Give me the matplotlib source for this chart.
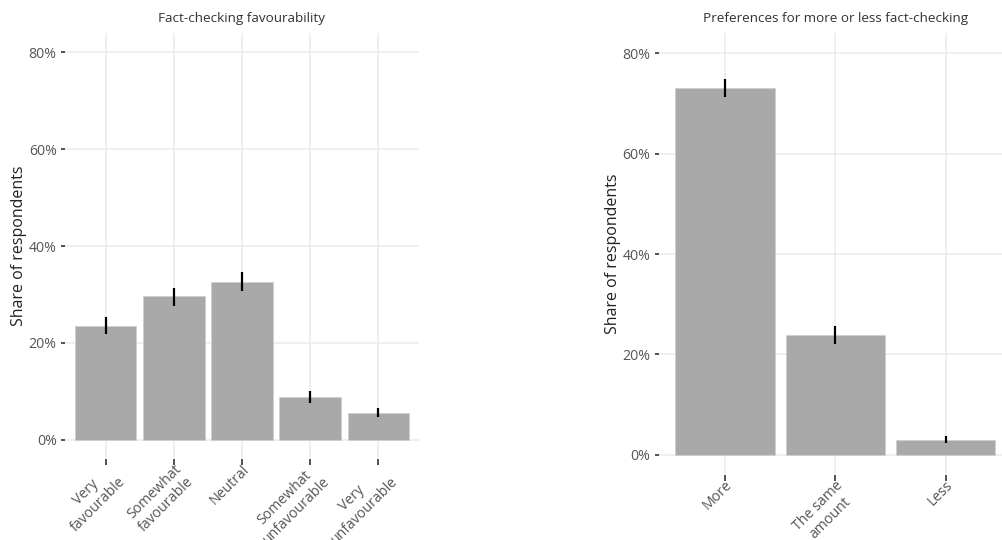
import matplotlib.pyplot as plt
from matplotlib.ticker import PercentFormatter

plt.rcParams["font.family"] = ["Open Sans", "DejaVu Sans"]

# Fact-checking favourability
fav_labels = ["Very\nfavourable", "Somewhat\nfavourable", "Neutral",
              "Somewhat\nunfavourable", "Very\nunfavourable"]
fav_share = [0.235, 0.296, 0.326, 0.0875, 0.0555]
fav_low = [0.218, 0.276, 0.307, 0.075, 0.046]
fav_high = [0.253, 0.314, 0.346, 0.100, 0.065]

# Preferences for more or less fact-checking
pref_labels = ["More", "The same\namount", "Less"]
pref_share = [0.730, 0.239, 0.030]
pref_low = [0.712, 0.221, 0.023]
pref_high = [0.749, 0.257, 0.038]

W, H = 1002, 540
fig = plt.figure(figsize=(W / 100, H / 100), dpi=100)


def px_axes(x0, x1, y_top, y_bot):
    return fig.add_axes([x0 / W, 1 - y_bot / H, (x1 - x0) / W, (y_bot - y_top) / H])


def panel(ax, labels, share, low, high, title):
    x = list(range(1, len(labels) + 1))
    ax.bar(x, share, width=0.9, color="#a9a9a9", edgecolor="#cfcfcf", linewidth=0.6, zorder=2)
    err = [[s - l for s, l in zip(share, low)], [h - s for s, h in zip(share, high)]]
    ax.errorbar(x, share, yerr=err, fmt="none", ecolor="black", elinewidth=1.6, capsize=0, zorder=3)

    ax.set_xlim(0.4, len(labels) + 0.6)
    ax.set_ylim(-0.04, 0.84)
    ax.set_yticks([0, 0.2, 0.4, 0.6, 0.8])
    ax.yaxis.set_major_formatter(PercentFormatter(1.0, decimals=0))
    ax.set_xticks(x)
    ax.set_xticklabels(labels, rotation=45, ha="right", rotation_mode="anchor",
                       multialignment="center")

    ax.grid(True, color="#ebebeb", linewidth=1.1, zorder=0)
    ax.set_axisbelow(True)
    for s in ax.spines.values():
        s.set_visible(False)
    ax.tick_params(axis="both", length=3, width=1.2, color="#333333",
                   labelsize=10.2, labelcolor="#555555", pad=3)
    ax.tick_params(axis="x", length=4, pad=-2)
    for lab in ax.get_xticklabels():
        lab.set_x(lab.get_position()[0])

    ax.set_title(title, fontsize=9.7, color="#333333", pad=8)
    ax.set_ylabel("Share of respondents", fontsize=11.5, color="#222222", labelpad=1)


ax1 = px_axes(65, 419, 33, 459)
panel(ax1, fav_labels, fav_share, fav_low, fav_high, "Fact-checking favourability")

ax2 = px_axes(658.7, 1012, 33, 475)
panel(ax2, pref_labels, pref_share, pref_low, pref_high, "Preferences for more or less fact-checking")

fig.savefig("out.png", dpi=100)
